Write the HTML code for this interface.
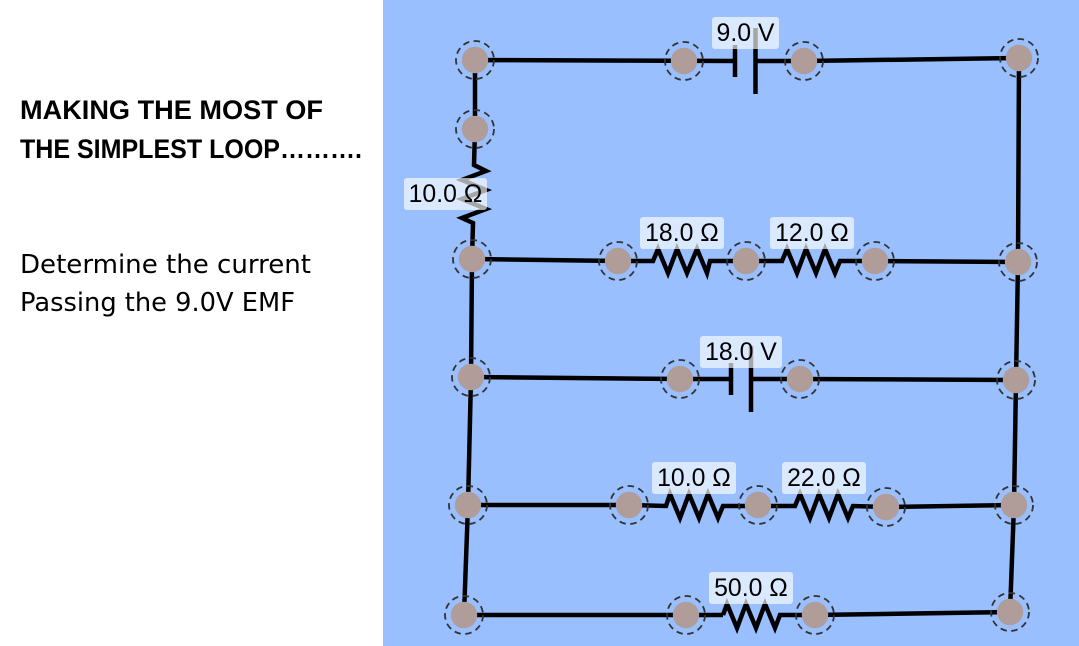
<!DOCTYPE html>
<html><head><meta charset="utf-8"><style>
html,body{margin:0;padding:0;background:#fff;width:1079px;height:646px;overflow:hidden}
svg{display:block}
.w{fill:none;stroke:#000;stroke-width:4.500;stroke-linejoin:miter;stroke-miterlimit:10}
.r{fill:#b09c98}
.d{fill:none;stroke:#333;stroke-width:1.800;stroke-dasharray:6.500 4.500}
.l{fill:#fff;fill-opacity:.65}
.t{font-family:"Liberation Sans",sans-serif;font-size:24.800px;text-anchor:middle;fill:#000}
.h{font-family:"Liberation Sans",sans-serif;font-size:26.500px;font-weight:bold;fill:#000}
.p{font-family:"DejaVu Sans","Liberation Sans",sans-serif;font-size:26px;fill:#000}
</style></head><body>
<svg width="1079" height="646" viewBox="0 0 1079 646" xmlns="http://www.w3.org/2000/svg">
<rect x="383" y="0" width="696" height="646" fill="#99bfff"/>
<text class="h" x="20" y="119" textLength="303" lengthAdjust="spacingAndGlyphs">MAKING THE MOST OF</text>
<text class="h" x="20" y="158" textLength="342" lengthAdjust="spacingAndGlyphs">THE SIMPLEST LOOP……….</text>
<text class="p" x="20" y="273" textLength="291" lengthAdjust="spacingAndGlyphs">Determine the current</text>
<text class="p" x="20" y="311" textLength="275" lengthAdjust="spacingAndGlyphs">Passing the 9.0V EMF</text>

<!-- wires -->
<polyline class="w" points="735,61 475,60 475,129 474,165 486,171 462,180 486,190 462,199 486,209 462,218 473,223 472,259 471,377 468,505 464,615 723,615"/>
<polyline class="w" points="755,61 804,61 1019,58 1018,262 1016,380 1014,505 1010,612 815,615 780,615 775,628 765,604 756,628 746,604 737,628 727,604 723,615"/>
<polyline class="w" points="472,259 618,261 653,261 658,249 668,273 677,249 687,273 697,249 707,273 710,261 782,261 787,249 797,273 806,249 816,273 825,249 835,273 840,261 875,261 1018,262"/>
<polyline class="w" points="471,377 680,379 731,379"/>
<polyline class="w" points="751,379 800,379 1016,380"/>
<polyline class="w" points="468,505 628,505 666,506 670,494 680,518 689,494 699,518 708,494 718,518 723,506 795,506 800,494 810,518 819,494 829,518 838,494 848,518 853,506 886,507 1014,505"/>
<!-- batteries -->
<path class="w" d="M735,45V77M755.500,28V94M731,363V395M751,346V412"/>

<!-- labels -->
<rect class="l" x="712" y="17" width="67" height="32" rx="3"/>
<rect class="l" x="404" y="178" width="83" height="32" rx="3"/>
<rect class="l" x="640" y="217" width="84" height="32" rx="3"/>
<rect class="l" x="770" y="217" width="84" height="32" rx="3"/>
<rect class="l" x="700" y="336" width="82" height="32" rx="3"/>
<rect class="l" x="652" y="462" width="84" height="32" rx="3"/>
<rect class="l" x="782" y="462" width="84" height="32" rx="3"/>
<rect class="l" x="709" y="572" width="84" height="32" rx="3"/>
<text class="t" x="745.500" y="41">9.0 V</text>
<text class="t" x="445.500" y="202">10.0 Ω</text>
<text class="t" x="682" y="241">18.0 Ω</text>
<text class="t" x="812" y="241">12.0 Ω</text>
<text class="t" x="741" y="360">18.0 V</text>
<text class="t" x="694" y="486">10.0 Ω</text>
<text class="t" x="824" y="486">22.0 Ω</text>
<text class="t" x="751" y="596">50.0 Ω</text>

<!-- nodes -->
<g class="d">
<circle cx="475" cy="60" r="19"/><circle cx="684" cy="61" r="19"/><circle cx="804" cy="61" r="19"/><circle cx="1019" cy="58" r="19"/>
<circle cx="475" cy="129" r="19"/>
<circle cx="472" cy="259" r="19"/><circle cx="618" cy="261" r="19"/><circle cx="746" cy="261" r="19"/><circle cx="875" cy="261" r="19"/><circle cx="1018" cy="262" r="19"/>
<circle cx="471" cy="377" r="19"/><circle cx="680" cy="379" r="19"/><circle cx="800" cy="379" r="19"/><circle cx="1016" cy="380" r="19"/>
<circle cx="468" cy="505" r="19"/><circle cx="629" cy="505" r="19"/><circle cx="758" cy="505" r="19"/><circle cx="886" cy="507" r="19"/><circle cx="1014" cy="505" r="19"/>
<circle cx="464" cy="615" r="19"/><circle cx="686" cy="615" r="19"/><circle cx="815" cy="615" r="19"/><circle cx="1010" cy="612" r="19"/>
</g>
<g class="r">
<circle cx="475" cy="60" r="13.200"/><circle cx="684" cy="61" r="13.200"/><circle cx="804" cy="61" r="13.200"/><circle cx="1019" cy="58" r="13.200"/>
<circle cx="475" cy="129" r="13.200"/>
<circle cx="472" cy="259" r="13.200"/><circle cx="618" cy="261" r="13.200"/><circle cx="746" cy="261" r="13.200"/><circle cx="875" cy="261" r="13.200"/><circle cx="1018" cy="262" r="13.200"/>
<circle cx="471" cy="377" r="13.200"/><circle cx="680" cy="379" r="13.200"/><circle cx="800" cy="379" r="13.200"/><circle cx="1016" cy="380" r="13.200"/>
<circle cx="468" cy="505" r="13.200"/><circle cx="629" cy="505" r="13.200"/><circle cx="758" cy="505" r="13.200"/><circle cx="886" cy="507" r="13.200"/><circle cx="1014" cy="505" r="13.200"/>
<circle cx="464" cy="615" r="13.200"/><circle cx="686" cy="615" r="13.200"/><circle cx="815" cy="615" r="13.200"/><circle cx="1010" cy="612" r="13.200"/>
</g>
</svg>
</body></html>
